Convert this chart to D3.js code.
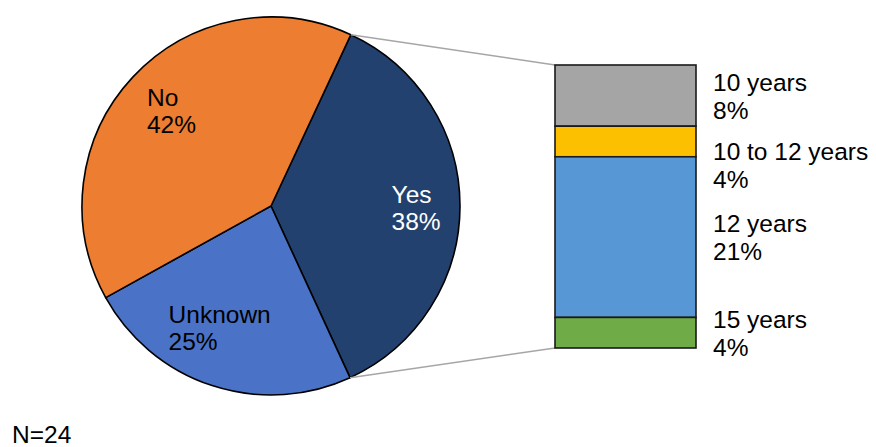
<!DOCTYPE html>
<html>
<head>
<meta charset="utf-8">
<script src="https://cdn.jsdelivr.net/npm/d3@7"></script>
<style>
  body { margin: 0; background: #fff; }
  text { font-family: "Liberation Sans", Arial, sans-serif; }
</style>
</head>
<body>
<div class="container"></div>
<script>
// pie: answer categories and their shares
const pieLabels = ['Yes', 'Unknown', 'No'];
const pieValues = [38, 25, 42];
const pieColors = ['#23416f', '#4a72c6', '#ec7d31'];

// bar: breakdown of "Yes"
const barLabels = ['10 years', '10 to 12 years', '12 years', '15 years'];
const barValues = [8, 4, 21, 4];
const barColors = ['#a5a5a5', '#fcc000', '#5897d5', '#6fab46'];

const noteText = 'N=24';

const width = 876;
const height = 447;
const fontSize = 24.5;

const svg = d3.select('.container')
    .append('svg')
    .attr('width', width)
    .attr('height', height);

// ---- pie ----
const cx = 271, cy = 206, r = 189;
const startAngle = 25 * Math.PI / 180;

const pie = d3.pie()
    .sort(null)
    .value(d => d.value)
    .startAngle(startAngle)
    .endAngle(startAngle + 2 * Math.PI);

const pieData = pie(pieLabels.map((l, i) => ({ label: l, value: pieValues[i], color: pieColors[i] })));

const arc = d3.arc().innerRadius(0).outerRadius(r);
const labelArc = d3.arc().innerRadius(r * 0.72).outerRadius(r * 0.72);

const pieGroup = svg.append('g')
    .attr('transform', `translate(${cx}, ${cy})`);

pieGroup.selectAll('path')
    .data(pieData)
    .join('path')
    .attr('d', arc)
    .attr('fill', d => d.data.color)
    .attr('stroke', '#000')
    .attr('stroke-width', 1.6)
    .attr('stroke-linejoin', 'round');

const nudge = { Yes: [9, 2], Unknown: [-9, -7], No: [0, -2] };

pieData.forEach(d => {
    const c = labelArc.centroid(d);
    const n = nudge[d.data.label];
    const x = c[0] + n[0], y = c[1] + n[1];
    const t = pieGroup.append('text')
        .attr('font-size', fontSize)
        .attr('fill', d.data.label === 'Yes' ? '#fff' : '#000');
    t.append('tspan').attr('x', 0).attr('y', y - 5).text(d.data.label);
    t.append('tspan').attr('x', 0).attr('y', y + 22).text(d.data.value + '%');
    const w = t.node().getBBox().width;
    t.selectAll('tspan').attr('x', x - w / 2);
});

// ---- stacked bar ----
const barX = 555, barW = 141;
const yScale = d3.scaleLinear()
    .domain([0, d3.sum(barValues)])
    .range([65, 348]);

const stacked = [];
let acc = 0;
barValues.forEach((v, i) => {
    stacked.push({ label: barLabels[i], value: v, color: barColors[i], y0: acc, y1: acc + v });
    acc += v;
});

// connector lines from the Yes slice to the bar
const yes = pieData[0];
const p0 = [cx + r * Math.sin(yes.startAngle), cy - r * Math.cos(yes.startAngle)];
const p1 = [cx + r * Math.sin(yes.endAngle), cy - r * Math.cos(yes.endAngle)];

svg.append('line')
    .attr('x1', p0[0]).attr('y1', p0[1])
    .attr('x2', barX).attr('y2', yScale(0))
    .attr('stroke', '#a6a6a6').attr('stroke-width', 1.5);
svg.append('line')
    .attr('x1', p1[0]).attr('y1', p1[1])
    .attr('x2', barX).attr('y2', yScale(acc))
    .attr('stroke', '#a6a6a6').attr('stroke-width', 1.5);

svg.append('g')
    .selectAll('rect')
    .data(stacked)
    .join('rect')
    .attr('x', barX)
    .attr('y', d => yScale(d.y0))
    .attr('width', barW)
    .attr('height', d => yScale(d.y1) - yScale(d.y0))
    .attr('fill', d => d.color)
    .attr('stroke', '#1a1a1a')
    .attr('stroke-width', 1.6);

// bar labels, centred on their segment and pushed down when they would overlap
let prev = -Infinity;
const minGap = 69;
stacked.forEach(d => {
    let c = (yScale(d.y0) + yScale(d.y1)) / 2;
    if (c < prev + minGap) c = prev + minGap;
    prev = c;
    const t = svg.append('text').attr('font-size', fontSize).attr('fill', '#000');
    t.append('tspan').attr('x', 713).attr('y', c - 5).text(d.label);
    t.append('tspan').attr('x', 713).attr('y', c + 23).text(d.value + '%');
});

svg.append('text')
    .attr('x', 12)
    .attr('y', 443)
    .attr('font-size', fontSize)
    .attr('fill', '#000')
    .text(noteText);
</script>
</body>
</html>
